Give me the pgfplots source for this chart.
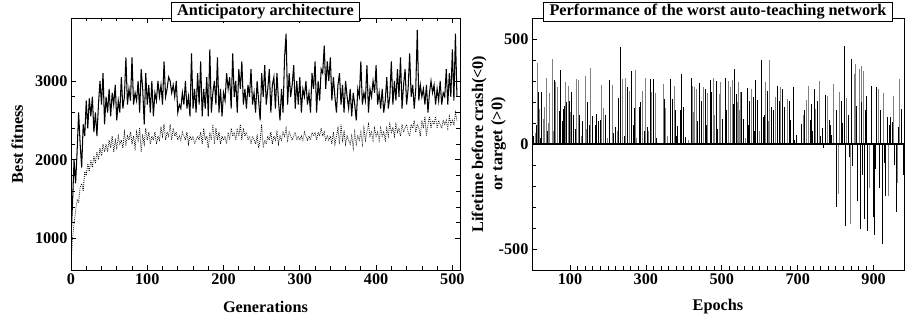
\documentclass[border=0pt]{standalone}
\usepackage{pgfplots}
\pgfplotsset{compat=1.18}
\usepackage{fontspec}
\setmainfont{Liberation Serif}
\newcommand{\bigbf}{\fontsize{16.3}{19.5}\selectfont\bfseries}

\pgfplotstableread{
x y
0 1000
2 1450
4 2000
6 1700
8 2100
10 2600
12 2200
14 1900
16 2450
18 2300
20 2750
22 2400
24 2780
26 2550
28 2800
30 2350
32 2600
34 2300
36 2700
38 3000
40 2700
42 3100
44 2450
46 2800
48 2600
50 2900
52 2550
54 2850
56 2700
58 2950
60 2500
62 2750
64 2600
66 3050
68 2650
70 2800
72 3300
74 2700
76 2900
78 2750
80 3300
82 2700
84 2850
86 2750
88 3000
90 2600
92 3150
94 2900
96 2450
98 3100
100 2700
102 2950
104 2600
106 3000
108 2550
110 2850
112 2750
114 3000
116 2800
118 2950
120 2700
122 3250
124 2800
126 2900
128 3050
130 3000
132 2850
134 2950
136 2800
138 3000
140 2600
142 2700
144 2650
146 2850
148 2700
150 3000
152 2650
154 2800
156 2550
158 3350
160 2650
162 2900
164 2600
166 3100
168 2700
170 3250
172 2550
174 2900
176 2650
178 3050
180 2550
182 3400
184 2600
186 2850
188 3000
190 2700
192 3300
194 2600
196 2900
198 2550
200 2850
202 2750
204 3100
206 2900
208 3050
210 2650
212 3350
214 2800
216 3000
218 2600
220 3150
222 2900
224 3250
226 2700
228 2900
230 2650
232 2950
234 2800
236 3150
238 2700
240 2850
242 2600
244 3000
246 2750
248 2500
250 3100
252 2800
254 3200
256 2700
258 2900
260 3150
262 2600
264 2950
266 3050
268 2650
270 3100
272 2750
274 2500
276 2900
278 2600
280 3300
282 3600
284 2700
286 3100
288 2800
290 2950
292 3200
294 2650
296 3000
298 2700
300 3050
302 2600
304 2900
306 2800
308 3000
310 2700
312 2850
314 2600
316 3100
318 2900
320 3250
322 2600
324 3000
326 2750
328 3150
330 3100
332 3450
334 2900
336 3250
338 3000
340 3300
342 2750
344 3050
346 2800
348 2600
350 2950
352 3100
354 2700
356 2950
358 2600
360 3000
362 2800
364 2650
366 2900
368 2550
370 2850
372 2700
374 2500
376 2900
378 2800
380 3250
382 2700
384 2850
386 2750
388 3200
390 2600
392 2900
394 2800
396 3000
398 2850
400 3200
402 2700
404 2850
406 2650
408 2900
410 2600
412 2750
414 3050
416 2650
418 2800
420 3250
422 2700
424 3000
426 2750
428 3150
430 2800
432 3300
434 2650
436 2950
438 3150
440 2700
442 2900
444 3350
446 2800
448 2950
450 2650
452 2900
454 3650
456 2750
458 2950
460 2800
462 2900
464 2700
466 2950
468 2600
470 2850
472 3000
474 2850
476 2950
478 2700
480 2900
482 2750
484 3000
486 2700
488 2850
490 2800
492 3150
494 2700
496 3100
498 2800
500 3400
502 2750
504 3600
506 2800
}\bestdata

\pgfplotstableread{
x y
0 650
2 1000
4 1200
6 1350
8 1500
10 1450
12 1650
14 1700
16 1600
18 1850
20 1800
22 1950
24 1850
26 2000
28 1900
30 2050
32 1950
34 2100
36 2000
38 2150
40 2050
42 2200
44 2100
46 2200
48 2100
50 2250
52 2150
54 2300
56 2100
58 2250
60 2150
62 2300
64 2200
66 2250
68 2150
70 2350
72 2200
74 2300
76 2250
78 2350
80 2200
82 2300
84 2150
86 2350
88 2250
90 2400
92 2100
94 2300
96 2200
98 2400
100 2250
102 2350
104 2200
106 2300
108 2250
110 2350
112 2200
114 2300
116 2250
118 2400
120 2300
122 2450
124 2250
126 2350
128 2300
130 2450
132 2250
134 2400
136 2300
138 2350
140 2250
142 2300
144 2250
146 2350
148 2300
150 2250
152 2350
154 2200
156 2300
158 2250
160 2300
162 2200
164 2250
166 2300
168 2250
170 2350
172 2200
174 2400
176 2250
178 2300
180 2150
182 2350
184 2250
186 2450
188 2200
190 2400
192 2250
194 2350
196 2200
198 2300
200 2250
202 2300
204 2200
206 2350
208 2250
210 2400
212 2300
214 2350
216 2250
218 2400
220 2300
222 2450
224 2250
226 2400
228 2300
230 2350
232 2250
234 2300
236 2200
238 2300
240 2250
242 2200
244 2300
246 2150
248 2250
250 2450
252 2150
254 2250
256 2200
258 2300
260 2250
262 2350
264 2200
266 2300
268 2250
270 2350
272 2200
274 2300
276 2250
278 2350
280 2300
282 2400
284 2250
286 2350
288 2300
290 2250
292 2300
294 2350
296 2250
298 2300
300 2250
302 2300
304 2250
306 2350
308 2300
310 2250
312 2300
314 2250
316 2350
318 2300
320 2350
322 2250
324 2350
326 2300
328 2400
330 2300
332 2350
334 2250
336 2300
338 2250
340 2300
342 2200
344 2350
346 2200
348 2300
350 2400
352 2200
354 2450
356 2250
358 2350
360 2200
362 2300
364 2250
366 2200
368 2300
370 2150
372 2350
374 2200
376 2300
378 2250
380 2350
382 2200
384 2400
386 2250
388 2350
390 2450
392 2300
394 2350
396 2250
398 2400
400 2300
402 2350
404 2250
406 2400
408 2300
410 2350
412 2250
414 2400
416 2300
418 2450
420 2350
422 2400
424 2300
426 2450
428 2350
430 2400
432 2300
434 2450
436 2350
438 2400
440 2450
442 2350
444 2300
446 2450
448 2400
450 2500
452 2350
454 2450
456 2400
458 2300
460 2500
462 2400
464 2550
466 2300
468 2450
470 2550
472 2400
474 2500
476 2450
478 2550
480 2400
482 2500
484 2450
486 2400
488 2500
490 2450
492 2500
494 2400
496 2550
498 2450
500 2500
502 2450
504 2600
506 2500
}\avgdata

\begin{document}
\begin{tikzpicture}
\path[use as bounding box] (0bp,0bp) rectangle (905bp,320bp);
\pgfplotsset{
  every axis/.append style={
    scale only axis,
    anchor=south west,
    font=\bigbf,
    axis line style={line width=0.9bp},
    /pgf/number format/assume math mode=true,
    tick label style={font=\bigbf},
    label style={font=\bigbf},
    major tick length=5bp,
    minor tick length=3.5bp,
    tick style={line width=0.7bp, black},
    tick align=inside,
    title style={at={(0.5,1)}, anchor=center, draw=black, line width=0.9bp, fill=white, inner xsep=6bp, inner ysep=2bp, font=\bigbf},
    /pgf/number format/1000 sep={},
  }
}
\begin{axis}[
  at={(71bp,50bp)},
  width=389bp, height=252bp,
  xmin=0, xmax=510, ymin=600, ymax=3800,
  xtick={0,100,...,500}, minor x tick num=4,
  ytick={1000,2000,3000}, minor y tick num=4,
  xlabel={Generations}, ylabel={Best fitness},
  xlabel style={at={(axis description cs:0.5,-0.147)}, anchor=center},
  ylabel style={at={(axis description cs:-0.138,0.5)}, anchor=center},
  title={Anticipatory architecture},
]
\addplot[black, line width=0.8bp, dash pattern=on 0.8bp off 1.2bp] table[x=x,y=y] {\avgdata};
\addplot[black, line width=1.05bp] table[x=x,y=y] {\bestdata};
\end{axis}

\begin{axis}[
  at={(532bp,50bp)},
  width=372bp, height=252bp,
  xmin=0, xmax=980, ymin=-600, ymax=600,
  xtick={100,300,...,900}, minor x tick num=9,
  ytick={-500,0,500}, minor y tick num=4,
  xtick pos=bottom, ytick pos=left,
  xlabel={Epochs},
  ylabel={Lifetime before crash(<0)\\or target (>0)},
  xlabel style={at={(axis description cs:0.5,-0.147)}, anchor=center},
  ylabel style={at={(axis description cs:-0.116,0.5)}, anchor=center, align=center},
  title={Performance of the worst auto-teaching network},
]
\addplot[ycomb, black!50, line width=0.9bp] coordinates {
(10,50) (15,387) (20,168) (32,178) (37,313) (43,100) (47,241) (53,407) (63,296) (68,270)
(88,296) (95,277) (117,309) (122,304) (140,324) (155,360) (182,282) (187,172) (212,282)
(238,309) (246,313) (257,254) (273,351) (291,251) (298,316) (315,246) (324,241) (345,288)
(352,172) (374,277) (422,274) (428,270) (434,262) (451,273) (462,241) (478,316) (493,238)
(496,293) (518,298) (523,273) (529,304) (543,296) (548,246) (578,262) (616,293) (626,398)
(641,226) (654,273) (672,215) (714,136) (723,210) (727,277) (748,168) (757,298) (779,230)
(795,288) (808,-240) (810,246) (829,219) (840,-381) (849,332) (853,379) (862,356) (869,371)
(873,348) (890,-208) (913,262) (926,241) (939,-248) (953,230) (964,-185) (969,309)
(8,30) (29,120) (56,60) (101,150) (130,40) (143,70) (199,30) (224,60) (276,30) (308,60)
(357,40) (412,20) (425,150) (481,140) (540,200) (546,160) (561,30) (599,60) (624,110)
};
\addplot[ycomb, black, line width=0.9bp] coordinates {
(5,40) (12,90) (17,246) (25,249) (59,304) (73,157) (76,353) (82,168) (86,180) (92,200)
(99,207) (105,246) (110,140) (125,136) (134,108) (147,199) (158,132) (166,89) (169,144)
(174,108) (180,113) (194,140) (205,304) (220,81) (228,219) (233,461) (252,270) (263,348)
(269,172) (282,178) (286,199) (303,81) (312,309) (320,309) (348,215) (364,309) (370,215)
(379,160) (384,85) (391,163) (395,335) (400,178) (405,34) (419,316) (442,291) (446,207)
(457,262) (469,304) (473,246) (486,301) (503,121) (509,313) (513,160) (534,356) (538,238)
(553,246) (567,266) (574,207) (583,226) (588,304) (593,210) (604,398) (610,128) (620,251)
(631,178) (636,160) (646,277) (651,207) (659,262) (665,176) (678,207) (682,116) (689,270)
(696,42) (703,-5) (711,97) (719,160) (733,113) (737,191) (744,262) (753,207) (764,74)
(769,-20) (774,235) (784,113) (790,42) (801,163) (803,-302) (814,207) (822,465) (826,-392)
(834,136) (841,407) (845,-107) (858,-271) (865,-404) (876,-357) (881,230) (885,-412)
(895,277) (899,-349) (903,-432) (908,270) (916,-208) (922,-475) (931,-248) (936,128)
(945,128) (950,105) (959,-326) (974,168) (978,-150)
(22,30) (40,60) (79,110) (114,70) (151,90) (215,50) (243,40) (266,90) (295,60) (328,30)
(381,40) (437,110) (459,90) (489,70) (531,190) (556,120) (571,90) (586,60) (612,140)
(660,90) (692,20) (738,60) (760,40) (786,90) (817,100) (836,-60) (855,180) (867,200)
(871,-150) (878,160) (893,120) (905,-120) (918,160) (928,-90) (941,90) (955,-100) (966,80)
};
\addplot[black, line width=1.2bp] coordinates {(0,0) (980,0)};
\end{axis}
\end{tikzpicture}
\end{document}
